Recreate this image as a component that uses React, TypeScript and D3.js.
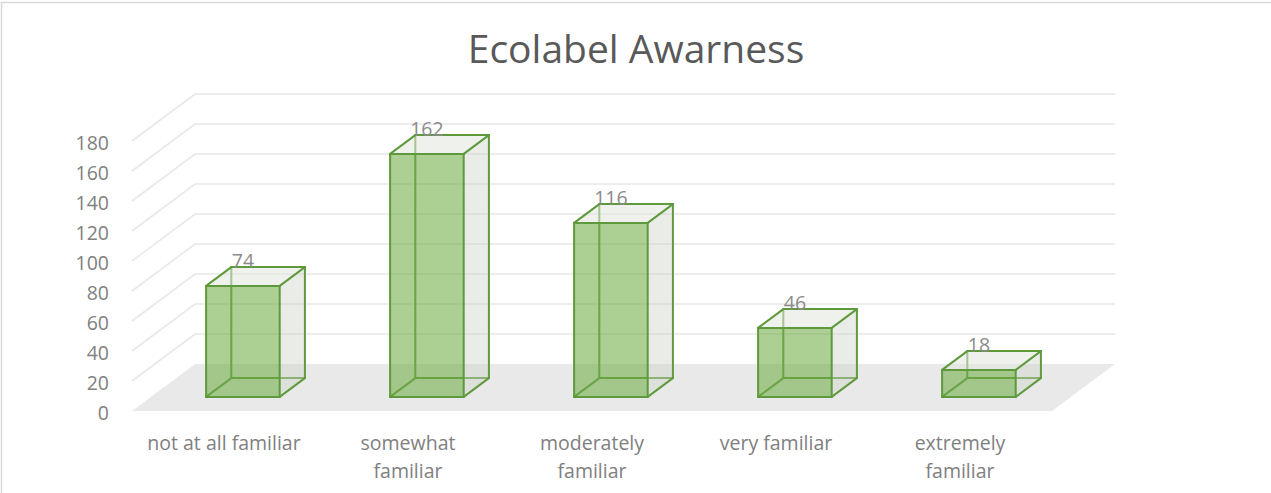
import React from "react";
import * as d3 from "d3";

// Survey counts per familiarity level
const categories = [
  "not at all familiar",
  "somewhat familiar",
  "moderately familiar",
  "very familiar",
  "extremely familiar",
];
const counts = [74, 162, 116, 46, 18];
const yTicks = [0, 20, 40, 60, 80, 100, 120, 140, 160, 180];
const chartTitle = "Ecolabel Awarness";

const W = 1271;
const H = 493;
const FONT = "'Open Sans', 'Noto Sans', sans-serif";

// Oblique projection of the 3D floor/wall box
const DX = 63; // horizontal shift for full depth
const DY = 47; // vertical shift for full depth
const Z0 = 0.3; // bar front depth
const Z1 = 0.7; // bar back depth

const x = d3
  .scaleBand<string>()
  .domain(categories)
  .range([132, 1052])
  .paddingInner(0.6)
  .paddingOuter(0.3);
const y = d3.scaleLinear().domain([0, 180]).range([411, 141]);

const P = (px: number, v: number, z: number): [number, number] => [
  px + z * DX,
  y(v) - z * DY,
];
const poly = (pts: [number, number][]) =>
  pts.map((p) => p.join(",")).join(" ");

let measureCtx: CanvasRenderingContext2D | null = null;
function textWidth(s: string, size: number): number {
  if (!measureCtx && typeof document !== "undefined") {
    measureCtx = document.createElement("canvas").getContext("2d");
  }
  if (measureCtx) {
    measureCtx.font = `${size}px 'Open Sans'`;
    return measureCtx.measureText(s).width;
  }
  return s.length * size * 0.52;
}

function wrap(label: string, maxW: number, size: number): string[] {
  const words = label.split(" ");
  const lines: string[] = [];
  let cur = "";
  for (const w of words) {
    const next = cur ? cur + " " + w : w;
    if (cur && textWidth(next, size) > maxW) {
      lines.push(cur);
      cur = w;
    } else cur = next;
  }
  if (cur) lines.push(cur);
  return lines;
}

const STROKE = "#5e9a3c";

function Bar({ cat, value }: { cat: string; value: number }) {
  const x0 = x(cat)!;
  const x1 = x0 + x.bandwidth();
  // front face corners
  const fbl = P(x0, 0, Z0);
  const fbr = P(x1, 0, Z0);
  const ftl = P(x0, value, Z0);
  const ftr = P(x1, value, Z0);
  // back face corners
  const bbl = P(x0, 0, Z1);
  const bbr = P(x1, 0, Z1);
  const btl = P(x0, value, Z1);
  const btr = P(x1, value, Z1);
  const line = (a: [number, number], b: [number, number], k: string) => (
    <line
      key={k}
      x1={a[0]}
      y1={a[1]}
      x2={b[0]}
      y2={b[1]}
      stroke={STROKE}
      strokeWidth={2}
      strokeLinecap="round"
    />
  );
  const labelX = (ftl[0] + ftr[0]) / 2;
  return (
    <g>
      {/* hidden edges seen through the translucent faces */}
      {line(bbl, btl, "h1")}
      {line(bbl, bbr, "h2")}
      {line(bbl, fbl, "h3")}
      {/* right side and top */}
      <polygon
        points={poly([fbr, bbr, btr, ftr])}
        fill="rgba(205,212,198,0.42)"
      />
      <polygon
        points={poly([ftl, ftr, btr, btl])}
        fill="rgba(225,230,220,0.55)"
      />
      {/* front */}
      <polygon
        points={poly([fbl, fbr, ftr, ftl])}
        fill="rgba(112,173,71,0.58)"
      />
      {line(fbl, fbr, "f1")}
      {line(fbr, ftr, "f2")}
      {line(ftr, ftl, "f3")}
      {line(ftl, fbl, "f4")}
      {line(ftl, btl, "t1")}
      {line(btl, btr, "t2")}
      {line(btr, ftr, "t3")}
      {line(fbr, bbr, "s1")}
      {line(bbr, btr, "s2")}
      <text
        x={labelX}
        y={btl[1] + 1}
        textAnchor="middle"
        fontFamily={FONT}
        fontSize={19.5}
        fill="#8a8a8a"
      >
        {value}
      </text>
    </g>
  );
}

export default function App() {
  const [xl, xr] = x.range();
  return (
    <svg
      width={W}
      height={H}
      viewBox={`0 0 ${W} ${H}`}
      style={{ position: "absolute", left: 0, top: 0, background: "#fff" }}
    >
      <rect
        x={1.5}
        y={2.5}
        width={W + 20}
        height={H + 20}
        fill="#fff"
        stroke="#d9d9d9"
        strokeWidth={1.5}
      />
      <text
        x={636}
        y={63}
        textAnchor="middle"
        fontFamily={FONT}
        fontSize={39}
        fill="#595959"
      >
        {chartTitle}
      </text>

      {/* back wall and side wall gridlines */}
      <g stroke="#e8e8e8" strokeWidth={1.6} fill="none">
        {yTicks
          .filter((t) => t > 0)
          .map((t) => {
            const a = P(xl, t, 0);
            const b = P(xl, t, 1);
            const c = P(xr, t, 1);
            return (
              <polyline key={t} points={poly([a, b, c])} />
            );
          })}
      </g>

      {/* floor */}
      <polygon
        points={poly([P(xl, 0, 0), P(xr, 0, 0), P(xr, 0, 1), P(xl, 0, 1)])}
        fill="#e9e9e9"
      />

      {/* y axis labels */}
      <g fontFamily={FONT} fontSize={19.5} fill="#808080" textAnchor="end">
        {yTicks.map((t) => (
          <text key={t} x={109} y={y(t) + 1} dominantBaseline="central">
            {t}
          </text>
        ))}
      </g>

      {categories.map((c, i) => (
        <Bar key={c} cat={c} value={counts[i]} />
      ))}

      {/* category labels */}
      <g fontFamily={FONT} fontSize={19.5} fill="#808080" textAnchor="middle">
        {categories.map((c) => {
          const cx = x(c)! + x.bandwidth() / 2;
          return (
            <text key={c} x={cx} y={450}>
              {wrap(c, 160, 19.5).map((ln, j) => (
                <tspan key={j} x={cx} dy={j === 0 ? 0 : 28}>
                  {ln}
                </tspan>
              ))}
            </text>
          );
        })}
      </g>
    </svg>
  );
}
